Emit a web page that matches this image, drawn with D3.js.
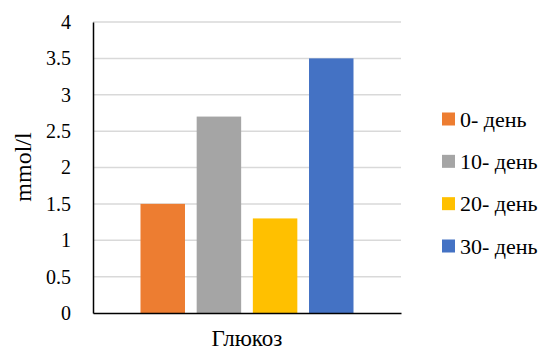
<!DOCTYPE html>
<html><head><meta charset="utf-8">
<script src="https://cdn.jsdelivr.net/npm/d3@7"></script>
<style>body{margin:0;background:#fff}svg{display:block}svg text{font-family:"Liberation Serif","Times New Roman",Tinos,"DejaVu Serif",serif;fill:#000}</style>
</head><body>
<script>
const categories = ["Глюкоз"];
const seriesNames = ["0- день", "10- день", "20- день", "30- день"];
const seriesValues = [1.5, 2.7, 1.3, 3.5];
const seriesColors = ["#ED7D31", "#A5A5A5", "#FFC000", "#4472C4"];
const yTicks = [0, 0.5, 1, 1.5, 2, 2.5, 3, 3.5, 4];
const yTitle = "mmol/l";

const W = 544, H = 351;
const m = {left: 93, right: 401, top: 22, bottom: 313};
const svg = d3.select("body").append("svg").attr("width", W).attr("height", H);

const y = d3.scaleLinear().domain([0, 4]).range([m.bottom, m.top]);
const x0 = d3.scaleBand().domain(categories).range([m.left, m.right]).paddingInner(0).paddingOuter(0.223);
const x1 = d3.scaleBand().domain(seriesNames).range([0, x0.bandwidth()]).paddingInner(0.208).paddingOuter(0);

// gridlines
svg.append("g").selectAll("line").data(yTicks.filter(d => d > 0)).join("line")
  .attr("x1", m.left).attr("x2", m.right)
  .attr("y1", d => y(d)).attr("y2", d => y(d))
  .attr("stroke", "#d9d9d9").attr("stroke-width", 1.5);

// y axis
const yAxis = d3.axisLeft(y).tickValues(yTicks).tickSize(0).tickPadding(22).tickFormat(d => String(d));
const gy = svg.append("g").attr("transform", `translate(${m.left},0)`).call(yAxis);
gy.attr("font-family", null);
gy.select(".domain").attr("stroke", "#000").attr("stroke-width", 1.5);
gy.selectAll("text").style("font-size", "20px").attr("fill", "#000");

// bars
const g = svg.append("g");
categories.forEach(c => {
  g.selectAll("rect").data(seriesValues).join("rect")
    .attr("x", (d, i) => x0(c) + x1(seriesNames[i]))
    .attr("width", x1.bandwidth())
    .attr("y", d => y(d))
    .attr("height", d => y(0) - y(d))
    .attr("fill", (d, i) => seriesColors[i]);
});

// x axis
const xAxis = d3.axisBottom(x0).tickSize(0).tickPadding(17);
const gx = svg.append("g").attr("transform", `translate(0,${m.bottom})`).call(xAxis);
gx.attr("font-family", null);
gx.select(".domain").attr("stroke", "#000").attr("stroke-width", 1.5);
gx.selectAll("text").style("font-size", "23px").attr("fill", "#000");

// y title
svg.append("text").attr("transform", "translate(31,167) rotate(-90)")
  .attr("text-anchor", "middle").style("font-size", "24px").text(yTitle);

// legend
const leg = svg.append("g");
const legY = d3.scalePoint().domain(seriesNames).range([119, 246]);
seriesNames.forEach((n, i) => {
  leg.append("rect").attr("x", 442).attr("y", legY(n) - 6.5).attr("width", 13).attr("height", 13).attr("fill", seriesColors[i]);
  leg.append("text").attr("x", 460).attr("y", legY(n) + 7.5).style("font-size", "22px").text(n);
});
</script>
</body></html>
